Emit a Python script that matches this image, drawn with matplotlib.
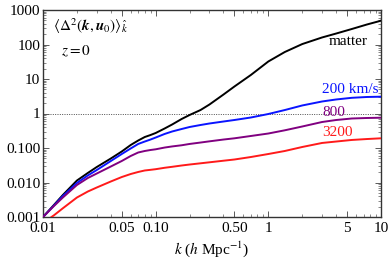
import numpy as np
import matplotlib
matplotlib.use("Agg")
import matplotlib.pyplot as plt
from matplotlib.ticker import FixedLocator, NullFormatter, FixedFormatter

plt.rcParams['font.family'] = ['Liberation Serif', 'DejaVu Serif']
plt.rcParams['mathtext.fontset'] = 'stix'

k = [0.01, 0.0125, 0.015, 0.02, 0.025, 0.03, 0.04, 0.05, 0.06, 0.07, 0.08, 0.09,
     0.1, 0.12, 0.14, 0.17, 0.2, 0.25, 0.3, 0.4, 0.5, 0.7, 1.0, 1.4, 2.0, 3.0,
     4.0, 5.5, 7.5, 10.0]
matter = [0.001, 0.00223, 0.00434, 0.0114, 0.0189, 0.0281, 0.0496, 0.0792, 0.122,
          0.165, 0.208, 0.238, 0.272, 0.367, 0.480, 0.693, 0.905, 1.26, 1.82, 3.55,
          6.06, 13.1, 32.2, 60.6, 103, 160, 208, 281, 380, 490]
v200 = [0.001, 0.00215, 0.00406, 0.00968, 0.0160, 0.0230, 0.0420, 0.0670, 0.0968,
        0.131, 0.154, 0.176, 0.201, 0.255, 0.301, 0.355, 0.406, 0.464, 0.513, 0.586,
        0.648, 0.766, 0.967, 1.26, 1.71, 2.23, 2.55, 2.85, 3.01, 3.07]
v800 = [0.001, 0.00208, 0.00367, 0.00846, 0.0135, 0.0182, 0.0291, 0.0420, 0.0586,
        0.0741, 0.0819, 0.0875, 0.0917, 0.103, 0.111, 0.120, 0.131, 0.144, 0.156, 0.176,
        0.191, 0.223, 0.263, 0.326, 0.420, 0.567, 0.648, 0.716, 0.741, 0.755]
k3200 = [0.0119] + k[1:]
v3200 = [0.001, 0.00112, 0.00179, 0.00367, 0.00548, 0.00716, 0.0107, 0.0144, 0.0176,
         0.0202, 0.0223, 0.0233, 0.0243, 0.0267, 0.0285, 0.0311, 0.0332, 0.0360, 0.0385,
         0.0428, 0.0464, 0.0548, 0.0670, 0.0819, 0.107, 0.140, 0.154, 0.171, 0.182, 0.191]

xticks = [0.01, 0.05, 0.1, 0.5, 1, 5, 10]
xticklabels = ['0.01', '0.05', '0.10', '0.50', '1', '5', '10']
yticks = [0.001, 0.01, 0.1, 1, 10, 100, 1000]
yticklabels = ['0.001', '0.010', '0.100', '1', '10', '100', '1000']

fig = plt.figure(figsize=(3.9, 2.65), dpi=100)
ax = fig.add_axes([43/390, 1-217/265, (381-43)/390, (217-10)/265])

ax.set_xscale('log')
ax.set_yscale('log')
ax.set_xlim(0.01, 10)
ax.set_ylim(0.001, 1000)

ax.axhline(1, color='0.3', lw=0.7, ls=(0, (1.0, 1.4)), zorder=1)

ax.plot(k, matter, color='black', lw=1.4, zorder=3)
ax.plot(k, v200, color='#0a14ff', lw=1.4, zorder=3)
ax.plot(k, v800, color='#800080', lw=1.4, zorder=3)
ax.plot(k3200, v3200, color='#ff1a1a', lw=1.4, zorder=3)

fs = 11
ax.text(7.65, 126, 'matter', color='black', fontsize=fs, ha='right', va='center')
ax.text(2.99, 5.1, '200 km/s', color='#0a14ff', fontsize=fs, ha='left', va='center')
ax.text(2.99, 1.07, '800', color='#800080', fontsize=fs, ha='left', va='center')
ax.text(2.99, 0.28, '3200', color='#ff1a1a', fontsize=fs, ha='left', va='center')

ax.text(53/390, 1-26/265, r'$\langle\Delta^2(\boldsymbol{k},\boldsymbol{u}_0)\rangle_{\hat{k}}$',
        transform=fig.transFigure, fontsize=fs, ha='left', va='center')
ax.text(61/390, 1-51/265, r'$z=0$', transform=fig.transFigure, fontsize=fs,
        ha='left', va='center')

ax.xaxis.set_major_locator(FixedLocator(xticks))
ax.xaxis.set_major_formatter(FixedFormatter(xticklabels))
xminor = [m * d for d in [0.01, 0.1, 1] for m in range(2, 10) if m != 5]
ax.xaxis.set_minor_locator(FixedLocator(xminor))
ax.xaxis.set_minor_formatter(NullFormatter())

ax.yaxis.set_major_locator(FixedLocator(yticks))
ax.yaxis.set_major_formatter(FixedFormatter(yticklabels))
yminor = [m * d for d in [0.001, 0.01, 0.1, 1, 10, 100] for m in range(2, 10)]
ax.yaxis.set_minor_locator(FixedLocator(yminor))
ax.yaxis.set_minor_formatter(NullFormatter())

ax.tick_params(which='both', direction='in', top=True, right=True, color='0.35')
ax.tick_params(which='major', length=4, width=0.7, labelsize=fs)
ax.tick_params(axis='y', which='major', pad=2)
ax.tick_params(axis='x', which='major', pad=3.5)
ax.tick_params(which='minor', length=2, width=0.5)
for s in ax.spines.values():
    s.set_color('0.2')
    s.set_linewidth(1.0)

ax.set_xlabel(r'$k$ ($h$ Mpc$^{-1}$)', fontsize=fs, labelpad=3)

fig.savefig('out.png', dpi=100)
